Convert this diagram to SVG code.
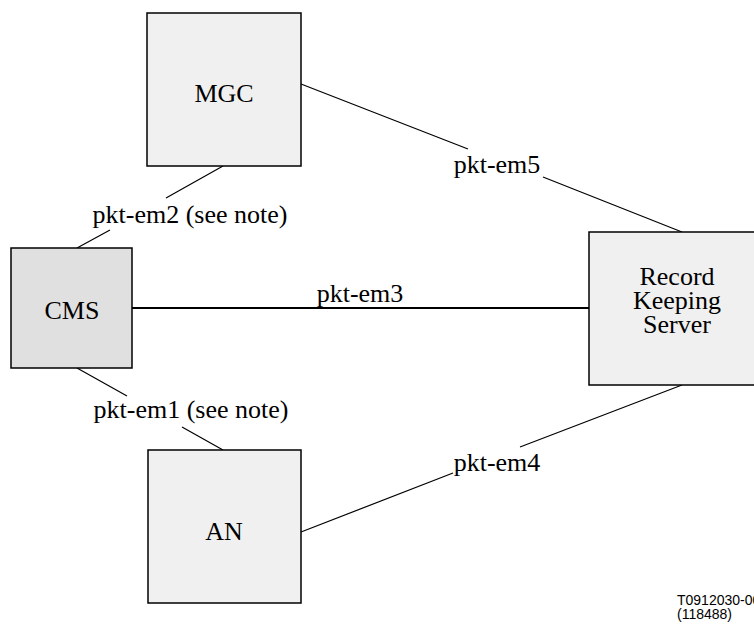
<svg xmlns="http://www.w3.org/2000/svg" width="754" height="625" viewBox="0 0 754 625">
<style>
.box{fill:#f0f0f0;stroke:#000;stroke-width:1.5}
.cms{fill:#e0e0e0;stroke:#000;stroke-width:1.5}
.lbl{font-family:'Liberation Serif','DejaVu Serif',serif;font-size:26px;fill:#000;text-anchor:middle}
.ln{stroke:#000;stroke-width:1.2;fill:none}
.note{font-family:'Liberation Sans',Arial,sans-serif;font-size:14px;fill:#000}
</style>
<rect width="754" height="625" fill="#fff"/>
<g id="connectors">
<path class="ln" d="M301,84 L468,149 M543,177 L682,232"/>
<path class="ln" d="M223,166 L166,198 M110,230 L77,248"/>
<path class="ln" d="M77,368 L127,396 M182,427 L223,450"/>
<path class="ln" d="M301,532 L453,473 M520,447 L682,385"/>
<line x1="132" y1="308" x2="589" y2="308" stroke="#000" stroke-width="2"/>
<text class="lbl" x="497" y="173">pkt-em5</text>
<text class="lbl" x="190" y="223">pkt-em2 (see note)</text>
<text class="lbl" x="360" y="302">pkt-em3</text>
<text class="lbl" x="191" y="418">pkt-em1 (see note)</text>
<text class="lbl" x="497" y="471">pkt-em4</text>
</g>
<g id="MGC">
<rect class="box" x="147" y="13" width="154" height="153"/>
<text class="lbl" x="224" y="102">MGC</text>
</g>
<g id="CMS">
<rect class="cms" x="11" y="248" width="121" height="120"/>
<text class="lbl" x="72" y="319">CMS</text>
</g>
<g id="RKS">
<rect class="box" x="589" y="232" width="180" height="153"/>
<text class="lbl" x="677" y="285">Record</text>
<text class="lbl" x="677" y="309">Keeping</text>
<text class="lbl" x="677" y="333">Server</text>
</g>
<g id="AN">
<rect class="box" x="148" y="450" width="153" height="153"/>
<text class="lbl" x="224" y="540">AN</text>
</g>
<g id="caption">
<text class="note" x="677" y="605">T0912030-00</text>
<text class="note" x="677" y="619">(118488)</text>
</g>
</svg>
